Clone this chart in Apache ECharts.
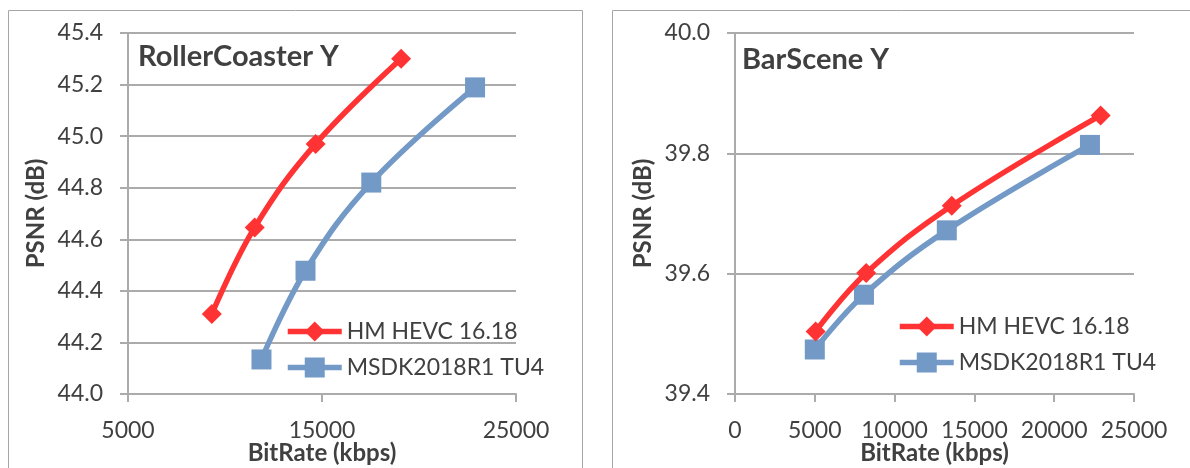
<!DOCTYPE html>
<html>
<head>
<meta charset="utf-8">
<script src="https://cdn.jsdelivr.net/npm/echarts@6/dist/echarts.min.js"></script>
<style>
  html, body { margin: 0; padding: 0; background: #ffffff; }
  #chart { width: 1190px; height: 468px; }
</style>
</head>
<body>
<div id="chart"></div>
<script>
// RollerCoaster Y: bitrate (kbps) against luma PSNR (dB)
const rollerHmRate   = [9320, 11530, 14670, 19080];
const rollerHmPsnr   = [44.31, 44.646, 44.97, 45.30];
const rollerMsdkRate = [11880, 14150, 17540, 22890];
const rollerMsdkPsnr = [44.134, 44.478, 44.82, 45.189];

// BarScene Y
const barHmRate   = [5050, 8220, 13580, 22910];
const barHmPsnr   = [39.504, 39.601, 39.713, 39.863];
const barMsdkRate = [5000, 8080, 13270, 22240];
const barMsdkPsnr = [39.474, 39.565, 39.672, 39.814];

// Axis tick values
const rollerXTicks = [5000, 15000, 25000];
const rollerYTicks = [44.0, 44.2, 44.4, 44.6, 44.8, 45.0, 45.2, 45.4];
const barXTicks = [0, 5000, 10000, 15000, 20000, 25000];
const barYTicks = [39.4, 39.6, 39.8, 40.0];

const seriesNames = ['HM HEVC 16.18', 'MSDK2018R1 TU4'];
const chartTitles = ['RollerCoaster Y', 'BarScene Y'];
const xAxisName = 'BitRate (kbps)';
const yAxisName = 'PSNR (dB)';

const FONT = 'Lato';
const TEXT = '#404040';
const GRID = '#ababab';
const RED = '#ff3333';
const BLUE = '#7399c6';
const LINE_W = 5.5;

const pairs = (xs, ys) => xs.map((x, i) => [x, ys[i]]);

function xAxisFor(gridIndex, ticks) {
  return {
    type: 'value', gridIndex,
    min: ticks[0], max: ticks[ticks.length - 1], interval: ticks[1] - ticks[0],
    name: xAxisName, nameLocation: 'middle', nameGap: 47, nameMoveOverlap: false,
    nameTextStyle: { fontFamily: FONT, fontSize: 24, fontWeight: 'bold', color: TEXT },
    axisLine: { show: true, lineStyle: { color: GRID, width: 2 } },
    axisTick: { show: true, length: 8, lineStyle: { color: GRID, width: 2 } },
    axisLabel: { margin: 25, fontFamily: FONT, fontSize: 23, color: TEXT,
                 formatter: v => String(v) },
    splitLine: { show: false }
  };
}

function yAxisFor(gridIndex, ticks) {
  return {
    type: 'value', gridIndex,
    min: ticks[0], max: ticks[ticks.length - 1], interval: +(ticks[1] - ticks[0]).toFixed(4),
    name: yAxisName, nameLocation: 'middle', nameGap: 80, nameRotate: 90, nameMoveOverlap: false,
    nameTextStyle: { fontFamily: FONT, fontSize: 24, fontWeight: 'bold', color: TEXT },
    axisLine: { show: true, lineStyle: { color: GRID, width: 2 } },
    axisTick: { show: true, length: 8, lineStyle: { color: GRID, width: 2 } },
    axisLabel: { margin: 25, fontFamily: FONT, fontSize: 23, color: TEXT,
                 formatter: v => v.toFixed(1) },
    splitLine: { show: true, lineStyle: { color: GRID, width: 2 } }
  };
}

function lineSeries(name, idx, data, color, symbol, size) {
  return {
    type: 'line', name, xAxisIndex: idx, yAxisIndex: idx, data,
    smooth: 0.4, symbol, symbolSize: size,
    lineStyle: { color, width: LINE_W },
    itemStyle: { color },
    z: symbol === 'rect' ? 3 : 4
  };
}

function legendFor(left, top) {
  return {
    data: seriesNames, orient: 'vertical', left, top, padding: 0,
    itemWidth: 54, itemHeight: 25, itemGap: 13,
    lineStyle: { width: LINE_W },
    textStyle: { fontFamily: FONT, fontSize: 23, color: TEXT }
  };
}

const chart = echarts.init(document.getElementById('chart'), null, { renderer: 'canvas' });

chart.setOption({
  backgroundColor: '#ffffff',
  animation: false,
  graphic: [
    { type: 'rect', shape: { x: 8.5, y: 10.5, width: 574, height: 480 },
      style: { fill: 'none', stroke: '#a6a6a6', lineWidth: 1 }, silent: true, z: -1 },
    { type: 'rect', shape: { x: 612.5, y: 10.5, width: 640, height: 480 },
      style: { fill: 'none', stroke: '#a6a6a6', lineWidth: 1 }, silent: true, z: -1 }
  ],
  title: [
    { text: chartTitles[0], left: 138, top: 42, padding: 0,
      textStyle: { fontFamily: FONT, fontSize: 29, fontWeight: 'bold', color: TEXT } },
    { text: chartTitles[1], left: 742, top: 45, padding: 0,
      textStyle: { fontFamily: FONT, fontSize: 29, fontWeight: 'bold', color: TEXT } }
  ],
  legend: [legendFor(285, 320), legendFor(897, 315)],
  grid: [
    { left: 128, top: 33, width: 388, height: 361, outerBoundsMode: 'none' },
    { left: 735, top: 33, width: 399, height: 361, outerBoundsMode: 'none' }
  ],
  xAxis: [xAxisFor(0, rollerXTicks), xAxisFor(1, barXTicks)],
  yAxis: [yAxisFor(0, rollerYTicks), yAxisFor(1, barYTicks)],
  series: [
    lineSeries(seriesNames[0], 0, pairs(rollerHmRate, rollerHmPsnr), RED, 'diamond', 20),
    lineSeries(seriesNames[1], 0, pairs(rollerMsdkRate, rollerMsdkPsnr), BLUE, 'rect', 20),
    lineSeries(seriesNames[0], 1, pairs(barHmRate, barHmPsnr), RED, 'diamond', 20),
    lineSeries(seriesNames[1], 1, pairs(barMsdkRate, barMsdkPsnr), BLUE, 'rect', 20)
  ]
});
</script>
</body>
</html>
